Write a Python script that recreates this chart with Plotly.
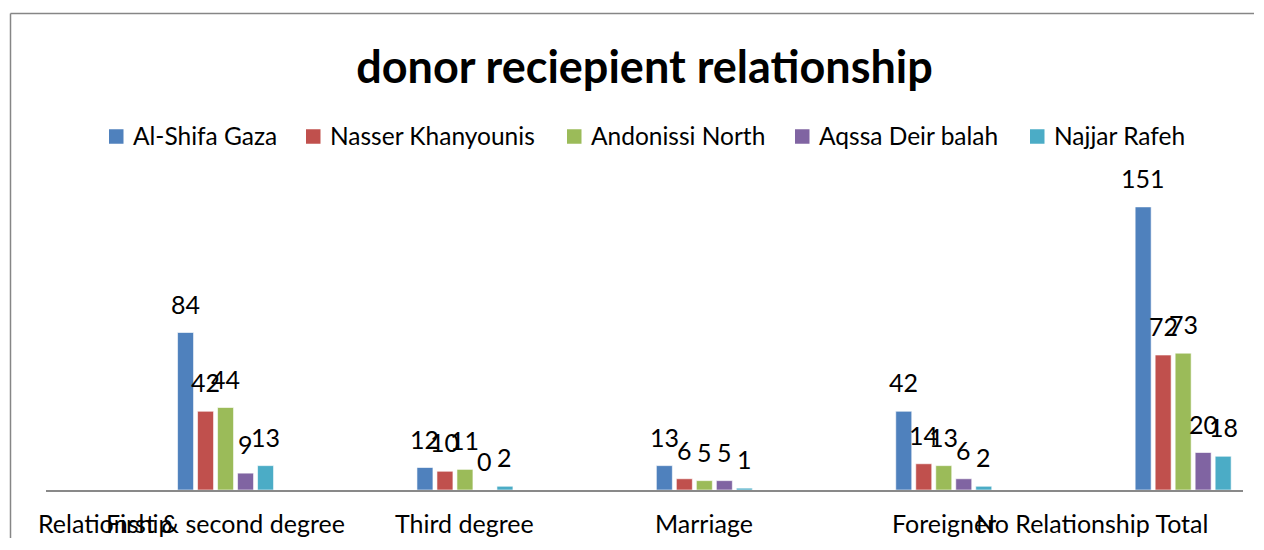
import plotly.graph_objects as go

# ---- data ----
categories = ["First & second degree", "Third degree", "Marriage", "Foreigner", "No Relationship Total"]
axis_labels = ["Relationship", "First & second degree", "Third degree", "Marriage", "Foreigner", "No Relationship Total"]
series_names = ["Al-Shifa Gaza", "Nasser Khanyounis", "Andonissi North", "Aqssa Deir balah", "Najjar Rafeh"]
al_shifa = [84, 12, 13, 42, 151]
nasser = [42, 10, 6, 14, 72]
andonissi = [44, 11, 5, 13, 73]
aqssa = [9, 0, 5, 6, 20]
najjar = [13, 2, 1, 2, 18]
title_text = "donor reciepient relationship"

series_values = [al_shifa, nasser, andonissi, aqssa, najjar]
colors = ["#4F81BD", "#C0504D", "#9BBB59", "#8064A2", "#4BACC6"]

FONT = "Lato"
# the page body adds an 8px margin, so the figure is sized to fit inside it
OFF = 8
W, H = 1246, 530
ML, MR, MT, MB = 38, 11, 182, 48
plot_w = W - ML - MR
plot_h = H - MT - MB
x_range = [-0.75, 4.25]
cat_px = plot_w / (x_range[1] - x_range[0])
bargap = 1 - 100 / cat_px
bargroupgap = 0.2
slot_px = cat_px * (1 - bargap) / len(series_names)


def px_x(sx):
    """screen x pixel -> paper x"""
    return (sx - OFF - ML) / plot_w


def px_y(sy):
    """screen y pixel -> paper y"""
    return (H - MB - (sy - OFF)) / plot_h


fig = go.Figure()
for name, vals, col in zip(series_names, series_values, colors):
    fig.add_trace(go.Bar(
        name=name, x=categories, y=vals, showlegend=False,
        marker=dict(color=col, line=dict(color="rgba(255,255,255,0.6)", width=1)),
    ))

annotations = []
shapes = []
n = len(series_names)
for i, vals in enumerate(series_values):
    for j, v in enumerate(vals):
        annotations.append(dict(
            x=categories[j], y=v, xref="x", yref="y",
            text=str(v), showarrow=False,
            xshift=(i - (n - 1) / 2) * slot_px, yshift=29,
            yanchor="middle", xanchor="center",
            font=dict(family=FONT, size=25, color="#000000"),
        ))

# category labels along the axis (Excel shifted the outer ones)
label_pos = [-0.5, 0, 1, 2, 3, 3.62]
for lab, pos in zip(axis_labels, label_pos):
    annotations.append(dict(
        x=pos, y=0, xref="x", yref="paper",
        text=lab, showarrow=False, yshift=-33,
        xanchor="center", yanchor="middle",
        font=dict(family=FONT, size=25, color="#000000"),
    ))

# legend laid out as in the reference (square key + text)
legend_square_left = [109, 306, 567, 795, 1030]
legend_text_gap = 7
sq = 14.5
leg_cy = 136.5
for name, col, sx in zip(series_names, colors, legend_square_left):
    shapes.append(dict(type="rect", xref="paper", yref="paper",
                       x0=px_x(sx), x1=px_x(sx + sq),
                       y0=px_y(leg_cy + sq / 2), y1=px_y(leg_cy - sq / 2),
                       fillcolor=col, line=dict(width=0)))
    annotations.append(dict(
        x=px_x(sx + sq + legend_text_gap), y=px_y(leg_cy - 1), xref="paper", yref="paper",
        text=name, showarrow=False, xanchor="left", yanchor="middle",
        font=dict(family=FONT, size=24.5, color="#000000"),
    ))

# chart-area border (top and left edges visible in the reference)
border_col = "#868686"
shapes.append(dict(type="line", xref="paper", yref="paper",
                   x0=px_x(10.5), x1=px_x(1270), y0=px_y(13.5), y1=px_y(13.5),
                   line=dict(color=border_col, width=1.5)))
shapes.append(dict(type="line", xref="paper", yref="paper",
                   x0=px_x(10.5), x1=px_x(10.5), y0=px_y(13.5), y1=px_y(560),
                   line=dict(color=border_col, width=1.5)))

fig.update_layout(
    width=W, height=H,
    margin=dict(l=ML, r=MR, t=MT, b=MB),
    paper_bgcolor="white", plot_bgcolor="white",
    barmode="group", bargap=bargap, bargroupgap=bargroupgap,
    showlegend=False,
    title=dict(text="<b>" + title_text + "</b>", x=0.5, xref="paper", xanchor="center",
               y=1 - 59 / H, yref="container", yanchor="middle",
               font=dict(family=FONT, size=45, color="#000000")),
    xaxis=dict(type="category", range=x_range, showticklabels=False, ticks="",
               showline=True, linecolor="#898989", linewidth=1.5, showgrid=False, zeroline=False,
               fixedrange=True),
    yaxis=dict(range=[0, 160], visible=False, showgrid=False, zeroline=False, fixedrange=True),
    annotations=annotations,
    shapes=shapes,
)

fig.write_html("out.html")
